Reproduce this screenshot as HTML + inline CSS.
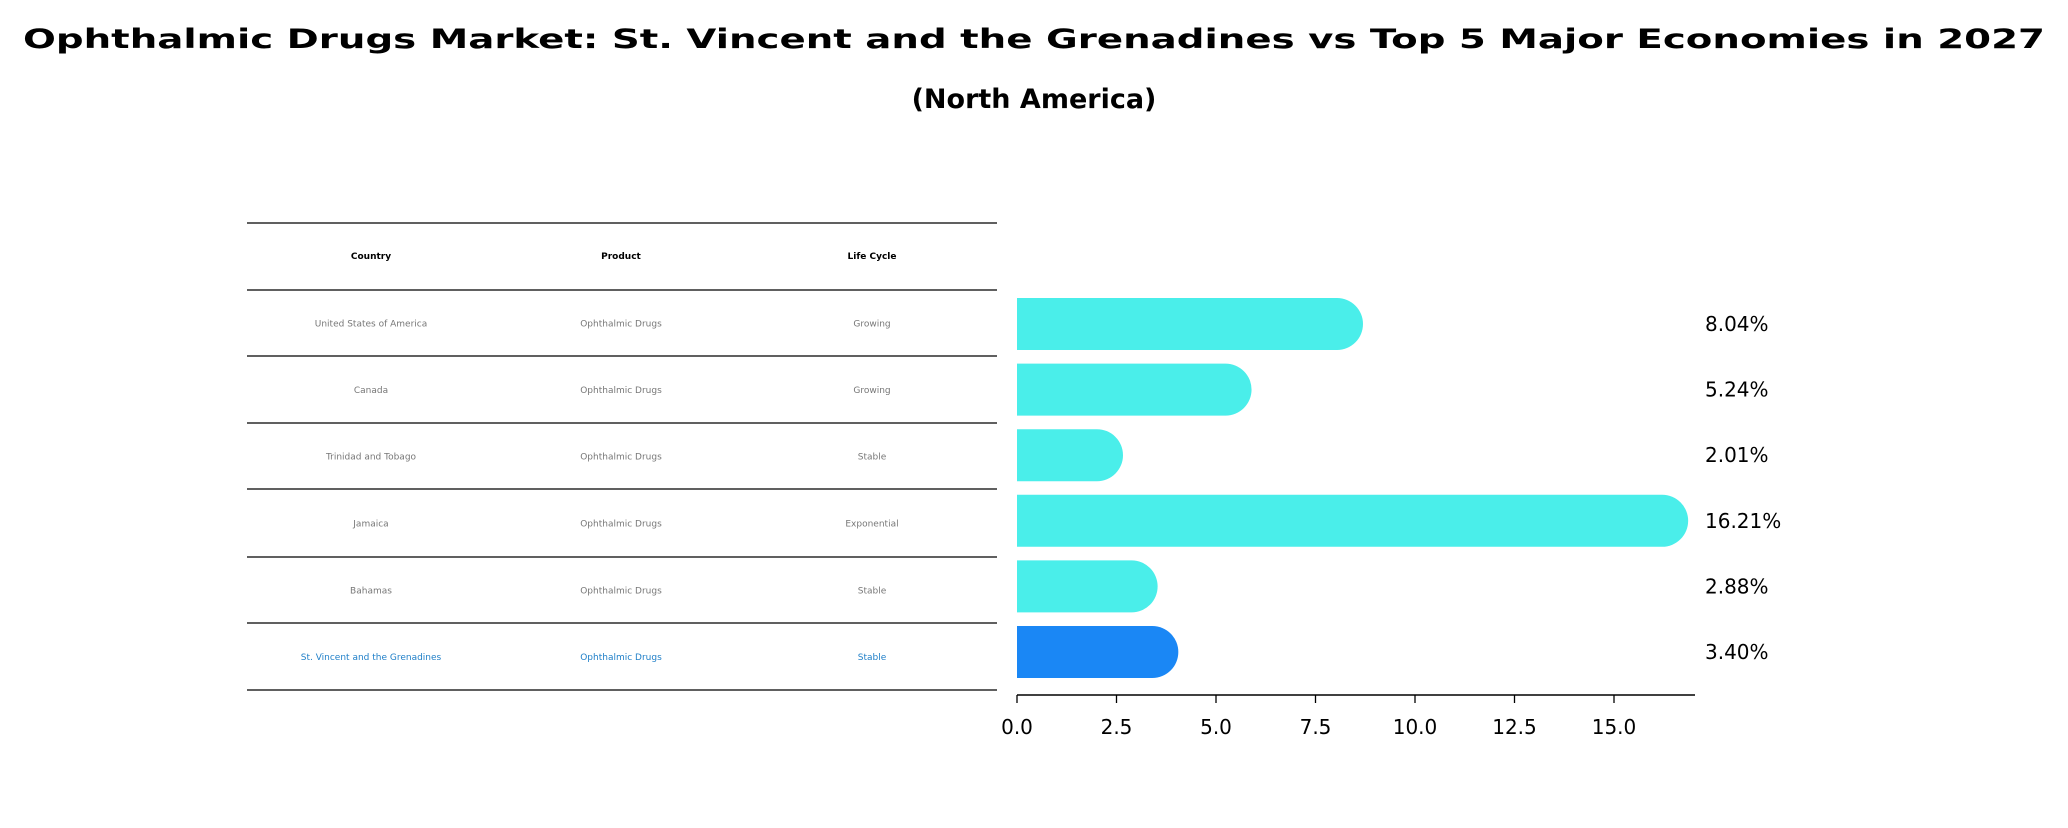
<!DOCTYPE html>
<html><head><meta charset="utf-8"><style>
body{margin:0;background:#fff;}
svg text{font-family:"DejaVu Sans","Liberation Sans",sans-serif;}
</style></head><body>
<svg width="2068" height="823" xmlns="http://www.w3.org/2000/svg">
<text x="1034" y="48" text-anchor="middle" font-size="27" font-weight="bold" textLength="2022" lengthAdjust="spacingAndGlyphs">Ophthalmic Drugs Market: St. Vincent and the Grenadines vs Top 5 Major Economies in 2027</text>
<text x="1034" y="108" text-anchor="middle" font-size="27" font-weight="bold">(North America)</text>
<g id="table"></g>
<g id="bars"></g>
</svg>
<script>
const countries=["United States of America","Canada","Trinidad and Tobago","Jamaica","Bahamas","St. Vincent and the Grenadines"];
const products=["Ophthalmic Drugs","Ophthalmic Drugs","Ophthalmic Drugs","Ophthalmic Drugs","Ophthalmic Drugs","Ophthalmic Drugs"];
const lifecycles=["Growing","Growing","Stable","Exponential","Stable","Stable"];
const values=[8.04,5.24,2.01,16.21,2.88,3.40];
const ticks=[0,2.5,5,7.5,10,12.5,15];
const NS="http://www.w3.org/2000/svg";
function mk(tag,attrs,parent){const e=document.createElementNS(NS,tag);for(const k in attrs)e.setAttribute(k,attrs[k]);parent.appendChild(e);return e;}
const tbl=document.getElementById('table');
const lineYs=[223,290,356,423,489,557,623,690];
const colX=[371,621,872];
lineYs.forEach((y,i)=>{const l=mk('line',{x1:247,x2:997,y1:y,y2:y,stroke:'#000','stroke-width':1.3},tbl);

});
["Country","Product","Life Cycle"].forEach((h,j)=>{const t=mk('text',{x:colX[j],y:259,'text-anchor':'middle','font-size':9,'font-weight':'bold'},tbl);t.textContent=h;

});
countries.forEach((c,i)=>{const y=(lineYs[i+1]+lineYs[i+2])/2+3.5;const hl=i===countries.length-1;
[c,products[i],lifecycles[i]].forEach((v,j)=>{const t=mk('text',{x:colX[j],y:y,'text-anchor':'middle','font-size':9,fill:hl?'#1f7fc8':'#777'},tbl);t.textContent=v;

});});
const g=document.getElementById('bars');
const x0=1017,unit=39.8;const xs=v=>x0+v*unit;
const ys=i=>324+i*65.6;const h=52;
values.forEach((v,i)=>{const hl=i===values.length-1;const col=hl?'#1a87f5':'#4aeeea';
const y=ys(i),xe=xs(v),r=h/2;
const p=mk('path',{d:`M${x0},${y-r} L${xe},${y-r} A${r},${r} 0 0 1 ${xe},${y+r} L${x0},${y+r} Z`,fill:col},g);


const t=mk('text',{x:1705,y:y+7,'font-size':20},g);t.textContent=v.toFixed(2)+'%';

});
const ax=mk('line',{x1:x0,x2:1695,y1:695,y2:695,stroke:'#000','stroke-width':1.5},g);


ticks.forEach(tv=>{const x=xs(tv);const tk=mk('line',{x1:x,x2:x,y1:695,y2:703,stroke:'#000','stroke-width':1.3},g);


const t=mk('text',{x:x,y:734,'text-anchor':'middle','font-size':20},g);t.textContent=tv.toFixed(1);

});
</script>
</body></html>
